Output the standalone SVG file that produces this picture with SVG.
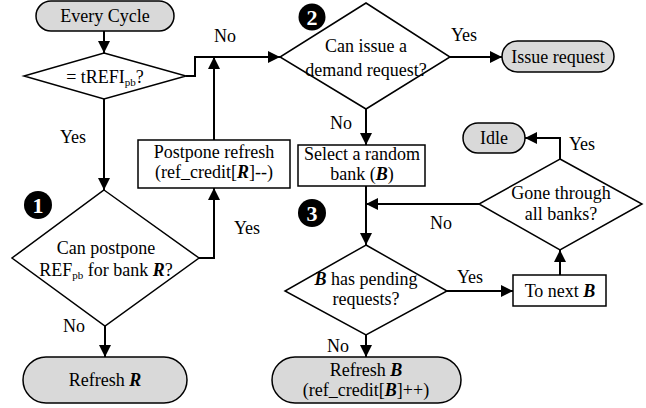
<svg xmlns="http://www.w3.org/2000/svg" width="646" height="408" viewBox="0 0 646 408" font-family="'Liberation Serif', 'Times New Roman', Times, serif">
<style>
text{font-family:'Liberation Serif','Times New Roman',Times,serif;font-size:18px;fill:#000;text-anchor:middle}
.sub{font-size:11px}
.b{font-weight:bold;font-style:italic}
.term{fill:#d9d9d9;stroke:#000;stroke-width:1.5}
.box{fill:#fff;stroke:#000;stroke-width:1.5}
.dia{fill:#fff;stroke:#000;stroke-width:1.5}
.con{fill:none;stroke:#000;stroke-width:2}
.badge circle{fill:#000}
.badge text{fill:#fff;font-weight:bold;font-size:22px}
</style>
<defs>
<marker id="ah" markerUnits="userSpaceOnUse" markerWidth="12" markerHeight="12" viewBox="0 0 12 12" refX="12" refY="6" orient="auto">
<path d="M0,0 L12,6 L0,12 Z" fill="#000"/>
</marker>
</defs>
<rect width="646" height="408" fill="#fff"/>
<g id="connectors">
<path class="con" d="M104,31 V53" marker-end="url(#ah)"/>
<path class="con" d="M186,76 H195 V57 H280" marker-end="url(#ah)"/>
<path class="con" d="M214,140 V57" marker-end="url(#ah)"/>
<path class="con" d="M450,57 H502" marker-end="url(#ah)"/>
<path class="con" d="M366,109 V145" marker-end="url(#ah)"/>
<path class="con" d="M366,186 V245" marker-end="url(#ah)"/>
<path class="con" d="M479,204 H366" marker-end="url(#ah)"/>
<path class="con" d="M447,291 H513" marker-end="url(#ah)"/>
<path class="con" d="M560,275 V250" marker-end="url(#ah)"/>
<path class="con" d="M560,159 V138 H525" marker-end="url(#ah)"/>
<path class="con" d="M366,335 V357" marker-end="url(#ah)"/>
<path class="con" d="M104,99 V190" marker-end="url(#ah)"/>
<path class="con" d="M199,258 H214 V188" marker-end="url(#ah)"/>
<path class="con" d="M105,326 V357" marker-end="url(#ah)"/>
<text x="225" y="42">No</text>
<text x="464" y="41">Yes</text>
<text x="341" y="129">No</text>
<text x="73" y="143">Yes</text>
<text x="247" y="234">Yes</text>
<text x="441" y="229">No</text>
<text x="582" y="150">Yes</text>
<text x="470" y="283">Yes</text>
<text x="74" y="332">No</text>
<text x="338" y="352">No</text>
</g>
<g id="every-cycle">
<rect class="term" x="36" y="1" width="138" height="30" rx="15"/>
<text x="105" y="22">Every Cycle</text>
</g>
<g id="trefi">
<polygon class="dia" points="104,53 186,76 104,99 24,76"/>
<text x="105" y="83">= tREFI<tspan class="sub" dy="3">pb</tspan><tspan dy="-3">?</tspan></text>
</g>
<g id="can-issue">
<polygon class="dia" points="366,3 450,57 366,109 280,57"/>
<text x="366" y="52">Can issue a</text>
<text x="366" y="76">demand request?</text>
</g>
<g id="badge2" class="badge">
<circle cx="312" cy="17" r="13.5"/>
<text x="312" y="25">2</text>
</g>
<g id="issue-request">
<rect class="term" x="502" y="41" width="112" height="31" rx="15.5"/>
<text x="558" y="63">Issue request</text>
</g>
<g id="postpone-refresh">
<rect class="box" x="138" y="140" width="152" height="48"/>
<text x="214" y="158">Postpone refresh</text>
<text x="214" y="178">(ref_credit[<tspan class="b">R</tspan>]--)</text>
</g>
<g id="select-bank">
<rect class="box" x="298" y="145" width="127" height="41"/>
<text x="362" y="160">Select a random</text>
<text x="362" y="180">bank (<tspan class="b">B</tspan>)</text>
</g>
<g id="idle">
<rect class="term" x="463" y="123" width="62" height="30" rx="15"/>
<text x="494" y="144">Idle</text>
</g>
<g id="gone-through">
<polygon class="dia" points="560,159 642,204 560,250 479,204"/>
<text x="561" y="199">Gone through</text>
<text x="561" y="220">all banks?</text>
</g>
<g id="badge3" class="badge">
<circle cx="312" cy="213" r="14"/>
<text x="312" y="221">3</text>
</g>
<g id="badge1" class="badge">
<circle cx="38" cy="205" r="14"/>
<text x="38" y="213">1</text>
</g>
<g id="can-postpone">
<polygon class="dia" points="104,190 199,258 105,326 12,258"/>
<text x="106" y="254">Can postpone</text>
<text x="106" y="276">REF<tspan class="sub" dy="3">pb</tspan><tspan dy="-3"> for bank </tspan><tspan class="b">R</tspan>?</text>
</g>
<g id="has-pending">
<polygon class="dia" points="366,245 447,291 366,335 285,291"/>
<text x="366" y="285"><tspan class="b">B</tspan> has pending</text>
<text x="366" y="305">requests?</text>
</g>
<g id="to-next">
<rect class="box" x="513" y="275" width="93" height="31"/>
<text x="560" y="297">To next <tspan class="b">B</tspan></text>
</g>
<g id="refresh-r">
<rect class="term" x="23" y="357" width="164" height="46" rx="23"/>
<text x="105" y="386">Refresh <tspan class="b">R</tspan></text>
</g>
<g id="refresh-b">
<rect class="term" x="272" y="357" width="189" height="46" rx="23"/>
<text x="366" y="376">Refresh <tspan class="b">B</tspan></text>
<text x="366" y="396">(ref_credit[<tspan class="b">B</tspan>]++)</text>
</g>
</svg>
